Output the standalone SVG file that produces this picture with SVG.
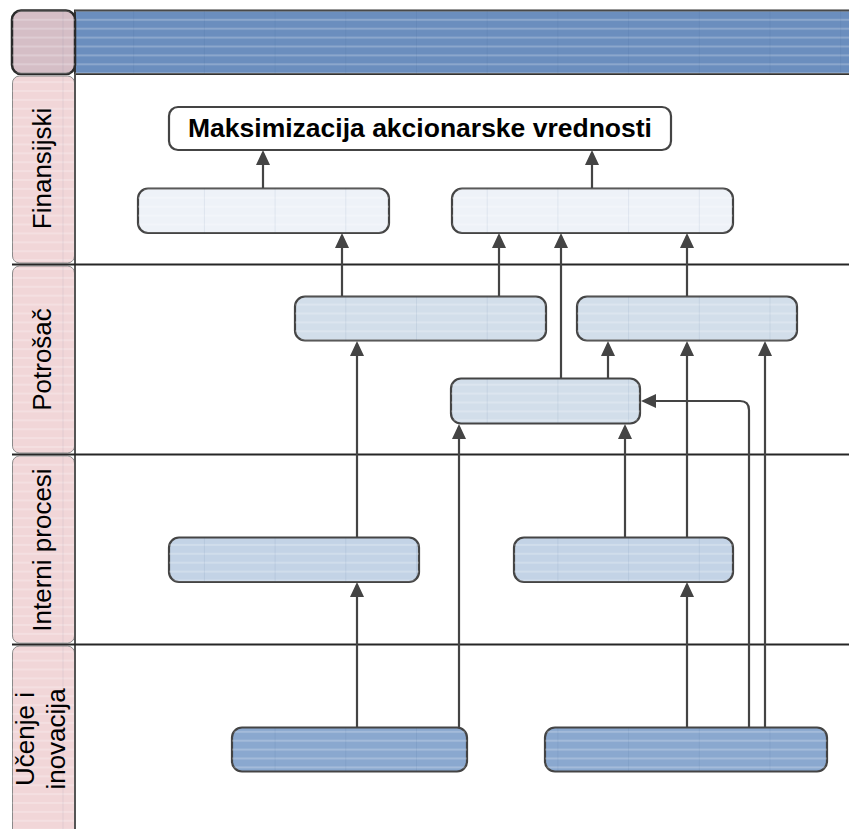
<svg xmlns="http://www.w3.org/2000/svg" width="849" height="829" viewBox="0 0 849 829">
  <style>
    .lane-cell { fill: #f1d6d8; stroke: #8a8a8a; stroke-width: 1; }
    .lane-label { font-family: "Liberation Sans", Arial, sans-serif; font-size: 26px; fill: #000; text-anchor: middle; }
    .divider { stroke: #262626; stroke-width: 2; }
    .node { stroke: #444; stroke-width: 2.2; }
    .tex { fill: url(#tex); stroke: none; }
    .l0 { fill: #ffffff; }
    .l1 { fill: #eef2f8; }
    .l2 { fill: #d2deea; }
    .l3 { fill: #c3d3e6; }
    .l4 { fill: #8aa8cf; }
    .title { font-family: "Liberation Sans", Arial, sans-serif; font-size: 26.5px; font-weight: bold; fill: #000; text-anchor: middle; }
    .conn { fill: none; stroke: #444; stroke-width: 2.2; marker-end: url(#arrow); }
  </style>
  <defs>
    <!-- faint banding texture laid over the filled shapes -->
    <pattern id="tex" patternUnits="userSpaceOnUse" x="62.5" y="1" width="70.7" height="8.9">
      <rect x="0" y="0" width="70.7" height="2" fill="#ffffff" opacity="0.22"/>
      <rect x="0" y="0" width="1" height="8.9" fill="#1f3f70" opacity="0.08"/>
    </pattern>
    <marker id="arrow" markerUnits="userSpaceOnUse" markerWidth="16" markerHeight="14" refX="12" refY="7" orient="auto">
      <path d="M0,0 L15,7 L0,14 Z" fill="#444"/>
    </marker>
  </defs>

  <!-- header band and corner cell -->
  <g id="header">
    <rect x="75" y="10.5" width="790" height="63.5" fill="#6b8ebe" stroke="#333" stroke-width="2"/>
    <rect x="75" y="10.5" width="790" height="63.5" class="tex"/>
    <rect x="12" y="10.5" width="63" height="63.5" rx="9" fill="#d5bec6" stroke="#2a2a2a" stroke-width="2.5"/>
    <rect x="12" y="10.5" width="63" height="63.5" rx="9" class="tex"/>
  </g>

  <!-- swimlane headers -->
  <g id="lane-finansijski">
    <rect class="lane-cell" x="12.5" y="76" width="62" height="187" rx="7"/>
    <rect class="tex" x="12.5" y="76" width="62" height="187" rx="7"/>
    <text class="lane-label" transform="translate(51,168.5) rotate(-90)">Finansijski</text>
  </g>
  <g id="lane-potrosac">
    <rect class="lane-cell" x="12.5" y="266" width="62" height="187" rx="7"/>
    <rect class="tex" x="12.5" y="266" width="62" height="187" rx="7"/>
    <text class="lane-label" transform="translate(51,359.5) rotate(-90)">Potrošač</text>
  </g>
  <g id="lane-interni">
    <rect class="lane-cell" x="12.5" y="456" width="62" height="187" rx="7"/>
    <rect class="tex" x="12.5" y="456" width="62" height="187" rx="7"/>
    <text class="lane-label" transform="translate(51,550) rotate(-90)">Interni procesi</text>
  </g>
  <g id="lane-ucenje">
    <rect class="lane-cell" x="12.5" y="646" width="62" height="195" rx="7"/>
    <rect class="tex" x="12.5" y="646" width="62" height="195" rx="7"/>
    <text class="lane-label" transform="translate(34,739) rotate(-90)">Učenje i</text>
    <text class="lane-label" transform="translate(65,739) rotate(-90)">inovacija</text>
  </g>

  <!-- lane separators -->
  <g id="lanes">
    <line x1="75" y1="74" x2="75" y2="829" stroke="#555" stroke-width="2"/>
    <line class="divider" x1="12" y1="264.5" x2="849" y2="264.5"/>
    <line class="divider" x1="12" y1="454.5" x2="849" y2="454.5"/>
    <line class="divider" x1="12" y1="644.5" x2="849" y2="644.5"/>
  </g>

  <!-- nodes -->
  <g id="goal">
    <rect class="node l0" x="169" y="107" width="502" height="43" rx="9"/>
    <text class="title" x="420" y="137">Maksimizacija akcionarske vrednosti</text>
  </g>
  <g id="fin-left">
    <rect class="node l1" x="138" y="188.5" width="251" height="44.5" rx="10"/>
    <rect class="tex" x="138" y="188.5" width="251" height="44.5" rx="10"/>
  </g>
  <g id="fin-right">
    <rect class="node l1" x="452" y="188.5" width="281" height="44.5" rx="10"/>
    <rect class="tex" x="452" y="188.5" width="281" height="44.5" rx="10"/>
  </g>
  <g id="pot-left">
    <rect class="node l2" x="295" y="296.5" width="251" height="44" rx="10"/>
    <rect class="tex" x="295" y="296.5" width="251" height="44" rx="10"/>
  </g>
  <g id="pot-right">
    <rect class="node l2" x="577" y="296.5" width="220" height="44" rx="10"/>
    <rect class="tex" x="577" y="296.5" width="220" height="44" rx="10"/>
  </g>
  <g id="pot-mid">
    <rect class="node l2" x="451" y="378.5" width="189" height="45" rx="10"/>
    <rect class="tex" x="451" y="378.5" width="189" height="45" rx="10"/>
  </g>
  <g id="int-left">
    <rect class="node l3" x="169" y="537.5" width="250" height="44.5" rx="10"/>
    <rect class="tex" x="169" y="537.5" width="250" height="44.5" rx="10"/>
  </g>
  <g id="int-right">
    <rect class="node l3" x="514" y="537.5" width="219" height="44.5" rx="10"/>
    <rect class="tex" x="514" y="537.5" width="219" height="44.5" rx="10"/>
  </g>
  <g id="uc-left">
    <rect class="node l4" x="232" y="727.5" width="235" height="44" rx="10"/>
    <rect class="tex" x="232" y="727.5" width="235" height="44" rx="10"/>
  </g>
  <g id="uc-right">
    <rect class="node l4" x="545" y="727.5" width="282" height="44" rx="10"/>
    <rect class="tex" x="545" y="727.5" width="282" height="44" rx="10"/>
  </g>

  <!-- connectors (all point upward into the target) -->
  <g id="connectors">
    <path class="conn" d="M263,188 V153"/>
    <path class="conn" d="M592,188 V153"/>
    <path class="conn" d="M342,296 V236"/>
    <path class="conn" d="M499,296 V236"/>
    <path class="conn" d="M561,378 V236"/>
    <path class="conn" d="M687,296 V236"/>
    <path class="conn" d="M608,378 V344"/>
    <path class="conn" d="M687,537 V344"/>
    <path class="conn" d="M765,727 V344"/>
    <path class="conn" d="M749,727 V410 Q749,401 740,401 H644"/>
    <path class="conn" d="M625,537 V427"/>
    <path class="conn" d="M459,727 V427"/>
    <path class="conn" d="M357,537 V344"/>
    <path class="conn" d="M357,727 V585"/>
    <path class="conn" d="M687,727 V585"/>
  </g>
</svg>
